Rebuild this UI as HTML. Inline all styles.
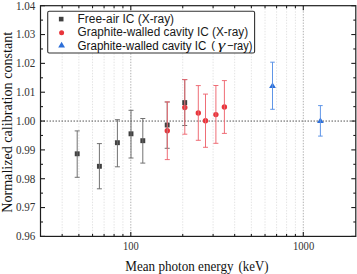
<!DOCTYPE html><html><head><meta charset="utf-8"><style>html,body{margin:0;padding:0;background:#fff;width:357px;height:274px;overflow:hidden}svg{display:block}</style></head><body><svg width="357" height="274" viewBox="0 0 357 274">
<rect width="357" height="274" fill="#fff"/>
<line x1="62.16" y1="5.7" x2="62.16" y2="236.4" stroke="#e0e0e0" stroke-width="0.9" stroke-dasharray="1.4,1.4"/>
<line x1="78.87" y1="5.7" x2="78.87" y2="236.4" stroke="#e0e0e0" stroke-width="0.9" stroke-dasharray="1.4,1.4"/>
<line x1="92.53" y1="5.7" x2="92.53" y2="236.4" stroke="#e0e0e0" stroke-width="0.9" stroke-dasharray="1.4,1.4"/>
<line x1="104.08" y1="5.7" x2="104.08" y2="236.4" stroke="#e0e0e0" stroke-width="0.9" stroke-dasharray="1.4,1.4"/>
<line x1="114.08" y1="5.7" x2="114.08" y2="236.4" stroke="#e0e0e0" stroke-width="0.9" stroke-dasharray="1.4,1.4"/>
<line x1="122.91" y1="5.7" x2="122.91" y2="236.4" stroke="#e0e0e0" stroke-width="0.9" stroke-dasharray="1.4,1.4"/>
<line x1="130.80" y1="5.7" x2="130.80" y2="236.4" stroke="#a8a8a8" stroke-width="0.9" stroke-dasharray="1.4,1.4"/>
<line x1="182.73" y1="5.7" x2="182.73" y2="236.4" stroke="#e0e0e0" stroke-width="0.9" stroke-dasharray="1.4,1.4"/>
<line x1="213.10" y1="5.7" x2="213.10" y2="236.4" stroke="#e0e0e0" stroke-width="0.9" stroke-dasharray="1.4,1.4"/>
<line x1="234.66" y1="5.7" x2="234.66" y2="236.4" stroke="#e0e0e0" stroke-width="0.9" stroke-dasharray="1.4,1.4"/>
<line x1="251.37" y1="5.7" x2="251.37" y2="236.4" stroke="#e0e0e0" stroke-width="0.9" stroke-dasharray="1.4,1.4"/>
<line x1="265.03" y1="5.7" x2="265.03" y2="236.4" stroke="#e0e0e0" stroke-width="0.9" stroke-dasharray="1.4,1.4"/>
<line x1="276.58" y1="5.7" x2="276.58" y2="236.4" stroke="#e0e0e0" stroke-width="0.9" stroke-dasharray="1.4,1.4"/>
<line x1="286.58" y1="5.7" x2="286.58" y2="236.4" stroke="#e0e0e0" stroke-width="0.9" stroke-dasharray="1.4,1.4"/>
<line x1="295.41" y1="5.7" x2="295.41" y2="236.4" stroke="#e0e0e0" stroke-width="0.9" stroke-dasharray="1.4,1.4"/>
<line x1="303.30" y1="5.7" x2="303.30" y2="236.4" stroke="#a8a8a8" stroke-width="0.9" stroke-dasharray="1.4,1.4"/>
<line x1="40.5" y1="121.05" x2="355.8" y2="121.05" stroke="#555" stroke-width="1" stroke-dasharray="1.5,1.5"/>
<line x1="62.16" y1="236.4" x2="62.16" y2="233.9" stroke="#1e1e1e" stroke-width="1.1"/>
<line x1="62.16" y1="5.7" x2="62.16" y2="8.2" stroke="#1e1e1e" stroke-width="1.1"/>
<line x1="78.87" y1="236.4" x2="78.87" y2="233.9" stroke="#1e1e1e" stroke-width="1.1"/>
<line x1="78.87" y1="5.7" x2="78.87" y2="8.2" stroke="#1e1e1e" stroke-width="1.1"/>
<line x1="92.53" y1="236.4" x2="92.53" y2="233.9" stroke="#1e1e1e" stroke-width="1.1"/>
<line x1="92.53" y1="5.7" x2="92.53" y2="8.2" stroke="#1e1e1e" stroke-width="1.1"/>
<line x1="104.08" y1="236.4" x2="104.08" y2="233.9" stroke="#1e1e1e" stroke-width="1.1"/>
<line x1="104.08" y1="5.7" x2="104.08" y2="8.2" stroke="#1e1e1e" stroke-width="1.1"/>
<line x1="114.08" y1="236.4" x2="114.08" y2="233.9" stroke="#1e1e1e" stroke-width="1.1"/>
<line x1="114.08" y1="5.7" x2="114.08" y2="8.2" stroke="#1e1e1e" stroke-width="1.1"/>
<line x1="122.91" y1="236.4" x2="122.91" y2="233.9" stroke="#1e1e1e" stroke-width="1.1"/>
<line x1="122.91" y1="5.7" x2="122.91" y2="8.2" stroke="#1e1e1e" stroke-width="1.1"/>
<line x1="182.73" y1="236.4" x2="182.73" y2="233.9" stroke="#1e1e1e" stroke-width="1.1"/>
<line x1="182.73" y1="5.7" x2="182.73" y2="8.2" stroke="#1e1e1e" stroke-width="1.1"/>
<line x1="213.10" y1="236.4" x2="213.10" y2="233.9" stroke="#1e1e1e" stroke-width="1.1"/>
<line x1="213.10" y1="5.7" x2="213.10" y2="8.2" stroke="#1e1e1e" stroke-width="1.1"/>
<line x1="234.66" y1="236.4" x2="234.66" y2="233.9" stroke="#1e1e1e" stroke-width="1.1"/>
<line x1="234.66" y1="5.7" x2="234.66" y2="8.2" stroke="#1e1e1e" stroke-width="1.1"/>
<line x1="251.37" y1="236.4" x2="251.37" y2="233.9" stroke="#1e1e1e" stroke-width="1.1"/>
<line x1="251.37" y1="5.7" x2="251.37" y2="8.2" stroke="#1e1e1e" stroke-width="1.1"/>
<line x1="265.03" y1="236.4" x2="265.03" y2="233.9" stroke="#1e1e1e" stroke-width="1.1"/>
<line x1="265.03" y1="5.7" x2="265.03" y2="8.2" stroke="#1e1e1e" stroke-width="1.1"/>
<line x1="276.58" y1="236.4" x2="276.58" y2="233.9" stroke="#1e1e1e" stroke-width="1.1"/>
<line x1="276.58" y1="5.7" x2="276.58" y2="8.2" stroke="#1e1e1e" stroke-width="1.1"/>
<line x1="286.58" y1="236.4" x2="286.58" y2="233.9" stroke="#1e1e1e" stroke-width="1.1"/>
<line x1="286.58" y1="5.7" x2="286.58" y2="8.2" stroke="#1e1e1e" stroke-width="1.1"/>
<line x1="295.41" y1="236.4" x2="295.41" y2="233.9" stroke="#1e1e1e" stroke-width="1.1"/>
<line x1="295.41" y1="5.7" x2="295.41" y2="8.2" stroke="#1e1e1e" stroke-width="1.1"/>
<line x1="130.80" y1="236.4" x2="130.80" y2="231.9" stroke="#1e1e1e" stroke-width="1.1"/>
<line x1="130.80" y1="5.7" x2="130.80" y2="10.2" stroke="#1e1e1e" stroke-width="1.1"/>
<line x1="303.30" y1="236.4" x2="303.30" y2="231.9" stroke="#1e1e1e" stroke-width="1.1"/>
<line x1="303.30" y1="5.7" x2="303.30" y2="10.2" stroke="#1e1e1e" stroke-width="1.1"/>
<line x1="40.5" y1="236.40" x2="45.0" y2="236.40" stroke="#1e1e1e" stroke-width="1.1"/>
<line x1="355.8" y1="236.40" x2="351.3" y2="236.40" stroke="#1e1e1e" stroke-width="1.1"/>
<line x1="40.5" y1="221.98" x2="43.0" y2="221.98" stroke="#1e1e1e" stroke-width="1.1"/>
<line x1="355.8" y1="221.98" x2="353.3" y2="221.98" stroke="#1e1e1e" stroke-width="1.1"/>
<line x1="40.5" y1="207.56" x2="45.0" y2="207.56" stroke="#1e1e1e" stroke-width="1.1"/>
<line x1="355.8" y1="207.56" x2="351.3" y2="207.56" stroke="#1e1e1e" stroke-width="1.1"/>
<line x1="40.5" y1="193.14" x2="43.0" y2="193.14" stroke="#1e1e1e" stroke-width="1.1"/>
<line x1="355.8" y1="193.14" x2="353.3" y2="193.14" stroke="#1e1e1e" stroke-width="1.1"/>
<line x1="40.5" y1="178.72" x2="45.0" y2="178.72" stroke="#1e1e1e" stroke-width="1.1"/>
<line x1="355.8" y1="178.72" x2="351.3" y2="178.72" stroke="#1e1e1e" stroke-width="1.1"/>
<line x1="40.5" y1="164.31" x2="43.0" y2="164.31" stroke="#1e1e1e" stroke-width="1.1"/>
<line x1="355.8" y1="164.31" x2="353.3" y2="164.31" stroke="#1e1e1e" stroke-width="1.1"/>
<line x1="40.5" y1="149.89" x2="45.0" y2="149.89" stroke="#1e1e1e" stroke-width="1.1"/>
<line x1="355.8" y1="149.89" x2="351.3" y2="149.89" stroke="#1e1e1e" stroke-width="1.1"/>
<line x1="40.5" y1="135.47" x2="43.0" y2="135.47" stroke="#1e1e1e" stroke-width="1.1"/>
<line x1="355.8" y1="135.47" x2="353.3" y2="135.47" stroke="#1e1e1e" stroke-width="1.1"/>
<line x1="40.5" y1="121.05" x2="45.0" y2="121.05" stroke="#1e1e1e" stroke-width="1.1"/>
<line x1="355.8" y1="121.05" x2="351.3" y2="121.05" stroke="#1e1e1e" stroke-width="1.1"/>
<line x1="40.5" y1="106.63" x2="43.0" y2="106.63" stroke="#1e1e1e" stroke-width="1.1"/>
<line x1="355.8" y1="106.63" x2="353.3" y2="106.63" stroke="#1e1e1e" stroke-width="1.1"/>
<line x1="40.5" y1="92.21" x2="45.0" y2="92.21" stroke="#1e1e1e" stroke-width="1.1"/>
<line x1="355.8" y1="92.21" x2="351.3" y2="92.21" stroke="#1e1e1e" stroke-width="1.1"/>
<line x1="40.5" y1="77.79" x2="43.0" y2="77.79" stroke="#1e1e1e" stroke-width="1.1"/>
<line x1="355.8" y1="77.79" x2="353.3" y2="77.79" stroke="#1e1e1e" stroke-width="1.1"/>
<line x1="40.5" y1="63.37" x2="45.0" y2="63.37" stroke="#1e1e1e" stroke-width="1.1"/>
<line x1="355.8" y1="63.37" x2="351.3" y2="63.37" stroke="#1e1e1e" stroke-width="1.1"/>
<line x1="40.5" y1="48.96" x2="43.0" y2="48.96" stroke="#1e1e1e" stroke-width="1.1"/>
<line x1="355.8" y1="48.96" x2="353.3" y2="48.96" stroke="#1e1e1e" stroke-width="1.1"/>
<line x1="40.5" y1="34.54" x2="45.0" y2="34.54" stroke="#1e1e1e" stroke-width="1.1"/>
<line x1="355.8" y1="34.54" x2="351.3" y2="34.54" stroke="#1e1e1e" stroke-width="1.1"/>
<line x1="40.5" y1="20.12" x2="43.0" y2="20.12" stroke="#1e1e1e" stroke-width="1.1"/>
<line x1="355.8" y1="20.12" x2="353.3" y2="20.12" stroke="#1e1e1e" stroke-width="1.1"/>
<line x1="40.5" y1="5.70" x2="45.0" y2="5.70" stroke="#1e1e1e" stroke-width="1.1"/>
<line x1="355.8" y1="5.70" x2="351.3" y2="5.70" stroke="#1e1e1e" stroke-width="1.1"/>
<rect x="40.5" y="5.7" width="315.3" height="230.70000000000002" fill="none" stroke="#1e1e1e" stroke-width="1.2"/>
<text x="15.9" y="240.20" font-family="Liberation Serif" font-size="12.7" textLength="19.4" lengthAdjust="spacingAndGlyphs" fill="#333">0.96</text>
<text x="15.9" y="211.36" font-family="Liberation Serif" font-size="12.7" textLength="19.4" lengthAdjust="spacingAndGlyphs" fill="#333">0.97</text>
<text x="15.9" y="182.52" font-family="Liberation Serif" font-size="12.7" textLength="19.4" lengthAdjust="spacingAndGlyphs" fill="#333">0.98</text>
<text x="15.9" y="153.69" font-family="Liberation Serif" font-size="12.7" textLength="19.4" lengthAdjust="spacingAndGlyphs" fill="#333">0.99</text>
<text x="15.9" y="124.85" font-family="Liberation Serif" font-size="12.7" textLength="19.4" lengthAdjust="spacingAndGlyphs" fill="#333">1.00</text>
<text x="15.9" y="96.01" font-family="Liberation Serif" font-size="12.7" textLength="19.4" lengthAdjust="spacingAndGlyphs" fill="#333">1.01</text>
<text x="15.9" y="67.17" font-family="Liberation Serif" font-size="12.7" textLength="19.4" lengthAdjust="spacingAndGlyphs" fill="#333">1.02</text>
<text x="15.9" y="38.34" font-family="Liberation Serif" font-size="12.7" textLength="19.4" lengthAdjust="spacingAndGlyphs" fill="#333">1.03</text>
<text x="15.9" y="9.50" font-family="Liberation Serif" font-size="12.7" textLength="19.4" lengthAdjust="spacingAndGlyphs" fill="#333">1.04</text>
<text x="123.0" y="249.6" font-family="Liberation Serif" font-size="12.7" textLength="15.7" lengthAdjust="spacingAndGlyphs" fill="#333">100</text>
<text x="293.0" y="249.6" font-family="Liberation Serif" font-size="12.7" textLength="21.2" lengthAdjust="spacingAndGlyphs" fill="#333">1000</text>
<text x="125.3" y="270.5" font-family="Liberation Serif" font-size="13.7" textLength="108.2" lengthAdjust="spacingAndGlyphs" fill="#111">Mean photon energy</text>
<text x="238.6" y="270.5" font-family="Liberation Serif" font-size="13.7" textLength="29.9" lengthAdjust="spacingAndGlyphs" fill="#111">(keV)</text>
<text transform="translate(11.7,212.8) rotate(-90)" font-family="Liberation Serif" font-size="14.9" textLength="181" lengthAdjust="spacingAndGlyphs" fill="#111">Normalized calibration constant</text>
<rect x="74.75" y="151.35000000000002" width="4.9" height="4.9" fill="#404040"/>
<rect x="96.95" y="163.85000000000002" width="4.9" height="4.9" fill="#404040"/>
<rect x="114.95" y="140.25" width="4.9" height="4.9" fill="#404040"/>
<rect x="128.55" y="131.35000000000002" width="4.9" height="4.9" fill="#404040"/>
<rect x="140.35000000000002" y="138.25" width="4.9" height="4.9" fill="#404040"/>
<rect x="164.75" y="122.55" width="4.9" height="4.9" fill="#404040"/>
<rect x="182.25" y="100.14999999999999" width="4.9" height="4.9" fill="#404040"/>
<circle cx="167.3" cy="130.8" r="2.7" fill="#e8353b"/>
<circle cx="184.8" cy="107.5" r="2.7" fill="#e8353b"/>
<circle cx="198.3" cy="113.0" r="2.7" fill="#e8353b"/>
<circle cx="205.5" cy="120.8" r="2.7" fill="#e8353b"/>
<circle cx="215.9" cy="114.6" r="2.7" fill="#e8353b"/>
<circle cx="224.4" cy="107.0" r="2.7" fill="#e8353b"/>
<polygon points="272.5,82.39999999999999 275.9,88.1 269.1,88.1" fill="#2d6fd8"/>
<polygon points="320.4,117.39999999999999 323.79999999999995,123.1 317.0,123.1" fill="#2d6fd8"/>
<line x1="77.2" y1="130.9" x2="77.2" y2="177.3" stroke="#6a6a6a" stroke-width="0.95"/><line x1="74.7" y1="130.9" x2="79.7" y2="130.9" stroke="#6a6a6a" stroke-width="0.95"/><line x1="74.7" y1="177.3" x2="79.7" y2="177.3" stroke="#6a6a6a" stroke-width="0.95"/>
<line x1="99.4" y1="143.6" x2="99.4" y2="188.8" stroke="#6a6a6a" stroke-width="0.95"/><line x1="96.9" y1="143.6" x2="101.9" y2="143.6" stroke="#6a6a6a" stroke-width="0.95"/><line x1="96.9" y1="188.8" x2="101.9" y2="188.8" stroke="#6a6a6a" stroke-width="0.95"/>
<line x1="117.4" y1="119.7" x2="117.4" y2="166.8" stroke="#6a6a6a" stroke-width="0.95"/><line x1="114.9" y1="119.7" x2="119.9" y2="119.7" stroke="#6a6a6a" stroke-width="0.95"/><line x1="114.9" y1="166.8" x2="119.9" y2="166.8" stroke="#6a6a6a" stroke-width="0.95"/>
<line x1="131.0" y1="110.3" x2="131.0" y2="158.0" stroke="#6a6a6a" stroke-width="0.95"/><line x1="128.5" y1="110.3" x2="133.5" y2="110.3" stroke="#6a6a6a" stroke-width="0.95"/><line x1="128.5" y1="158.0" x2="133.5" y2="158.0" stroke="#6a6a6a" stroke-width="0.95"/>
<line x1="142.8" y1="118.5" x2="142.8" y2="163.1" stroke="#6a6a6a" stroke-width="0.95"/><line x1="140.3" y1="118.5" x2="145.3" y2="118.5" stroke="#6a6a6a" stroke-width="0.95"/><line x1="140.3" y1="163.1" x2="145.3" y2="163.1" stroke="#6a6a6a" stroke-width="0.95"/>
<line x1="167.2" y1="102.0" x2="167.2" y2="148.3" stroke="#6a6a6a" stroke-width="0.95"/><line x1="164.7" y1="102.0" x2="169.7" y2="102.0" stroke="#6a6a6a" stroke-width="0.95"/><line x1="164.7" y1="148.3" x2="169.7" y2="148.3" stroke="#6a6a6a" stroke-width="0.95"/>
<line x1="184.7" y1="79.6" x2="184.7" y2="125.5" stroke="#6a6a6a" stroke-width="0.95"/><line x1="182.2" y1="79.6" x2="187.2" y2="79.6" stroke="#6a6a6a" stroke-width="0.95"/><line x1="182.2" y1="125.5" x2="187.2" y2="125.5" stroke="#6a6a6a" stroke-width="0.95"/>
<line x1="167.3" y1="101.9" x2="167.3" y2="159.6" stroke="#ee6670" stroke-width="0.95"/><line x1="164.8" y1="101.9" x2="169.8" y2="101.9" stroke="#ee6670" stroke-width="0.95"/><line x1="164.8" y1="159.6" x2="169.8" y2="159.6" stroke="#ee6670" stroke-width="0.95"/>
<line x1="184.8" y1="79.6" x2="184.8" y2="134.2" stroke="#ee6670" stroke-width="0.95"/><line x1="182.3" y1="79.6" x2="187.3" y2="79.6" stroke="#ee6670" stroke-width="0.95"/><line x1="182.3" y1="134.2" x2="187.3" y2="134.2" stroke="#ee6670" stroke-width="0.95"/>
<line x1="198.3" y1="85.6" x2="198.3" y2="140.3" stroke="#ee6670" stroke-width="0.95"/><line x1="195.8" y1="85.6" x2="200.8" y2="85.6" stroke="#ee6670" stroke-width="0.95"/><line x1="195.8" y1="140.3" x2="200.8" y2="140.3" stroke="#ee6670" stroke-width="0.95"/>
<line x1="205.5" y1="94.1" x2="205.5" y2="147.3" stroke="#ee6670" stroke-width="0.95"/><line x1="203.0" y1="94.1" x2="208.0" y2="94.1" stroke="#ee6670" stroke-width="0.95"/><line x1="203.0" y1="147.3" x2="208.0" y2="147.3" stroke="#ee6670" stroke-width="0.95"/>
<line x1="215.9" y1="85.5" x2="215.9" y2="143.3" stroke="#ee6670" stroke-width="0.95"/><line x1="213.4" y1="85.5" x2="218.4" y2="85.5" stroke="#ee6670" stroke-width="0.95"/><line x1="213.4" y1="143.3" x2="218.4" y2="143.3" stroke="#ee6670" stroke-width="0.95"/>
<line x1="224.4" y1="80.6" x2="224.4" y2="133.4" stroke="#ee6670" stroke-width="0.95"/><line x1="221.9" y1="80.6" x2="226.9" y2="80.6" stroke="#ee6670" stroke-width="0.95"/><line x1="221.9" y1="133.4" x2="226.9" y2="133.4" stroke="#ee6670" stroke-width="0.95"/>
<line x1="272.5" y1="62.2" x2="272.5" y2="109.3" stroke="#5790e6" stroke-width="0.95"/><line x1="270.2" y1="62.2" x2="274.8" y2="62.2" stroke="#5790e6" stroke-width="0.95"/><line x1="270.2" y1="109.3" x2="274.8" y2="109.3" stroke="#5790e6" stroke-width="0.95"/>
<line x1="320.4" y1="105.6" x2="320.4" y2="136.1" stroke="#5790e6" stroke-width="0.95"/><line x1="318.09999999999997" y1="105.6" x2="322.7" y2="105.6" stroke="#5790e6" stroke-width="0.95"/><line x1="318.09999999999997" y1="136.1" x2="322.7" y2="136.1" stroke="#5790e6" stroke-width="0.95"/>
<rect x="47.7" y="11.2" width="206.9" height="41.8" rx="1.5" fill="#fff" stroke="#333" stroke-width="1.1"/>
<rect x="58.900000000000006" y="16.8" width="4.6" height="4.6" fill="#404040"/>
<text x="77.6" y="22.75" font-family="Liberation Sans" font-size="12.5" textLength="96.5" lengthAdjust="spacingAndGlyphs" fill="#1a1a1a">Free-air IC (X-ray)</text>
<circle cx="61.6" cy="32.7" r="2.5" fill="#e8353b"/>
<text x="77.6" y="36.3" font-family="Liberation Sans" font-size="12.5" textLength="170.5" lengthAdjust="spacingAndGlyphs" fill="#1a1a1a">Graphite-walled cavity IC (X-ray)</text>
<polygon points="61.6,41.8 65.0,47.6 58.2,47.6" fill="#2d6fd8"/>
<text x="77.6" y="50.1" font-family="Liberation Sans" font-size="12.5" textLength="128.7" lengthAdjust="spacingAndGlyphs" fill="#111">Graphite-walled cavity IC</text>
<text x="211.2" y="49.300000000000004" font-family="Liberation Sans" font-size="11" fill="#111">(</text>
<text x="217.9" y="48.9" font-family="Liberation Serif" font-style="italic" font-size="13" textLength="7.3" lengthAdjust="spacingAndGlyphs" fill="#111">&#947;</text>
<text x="227.0" y="50.1" font-family="Liberation Sans" font-size="12.5" textLength="25.3" lengthAdjust="spacingAndGlyphs" fill="#111">&#8722;ray)</text>
</svg></body></html>
